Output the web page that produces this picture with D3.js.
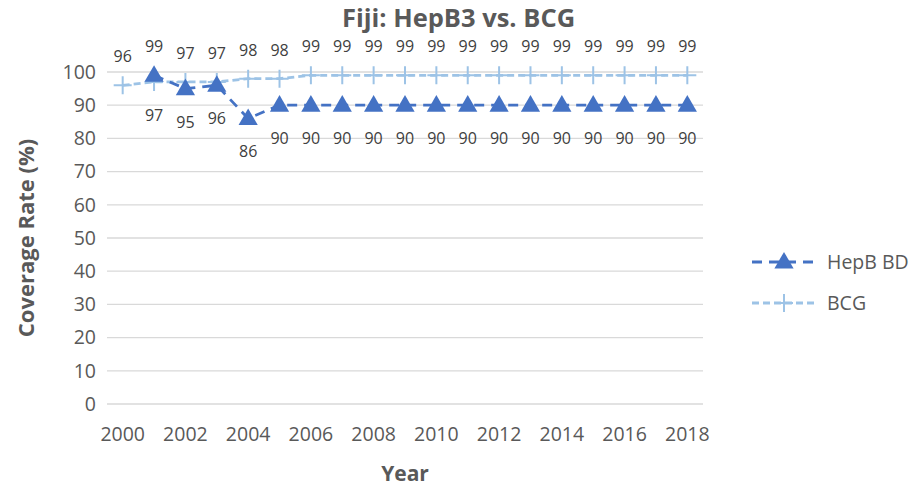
<!DOCTYPE html>
<html><head><meta charset="utf-8">
<script src="https://cdn.jsdelivr.net/npm/d3@7"></script>
<style>body{margin:0;background:#fff}svg{display:block}text{font-family:"Open Sans",sans-serif}</style>
</head><body><svg id="c" width="917" height="490"></svg>
<script>
const years = [2000,2001,2002,2003,2004,2005,2006,2007,2008,2009,2010,2011,2012,2013,2014,2015,2016,2017,2018];
const hepbYears = [2001,2002,2003,2004,2005,2006,2007,2008,2009,2010,2011,2012,2013,2014,2015,2016,2017,2018];
const hepbValues = [99,95,96,86,90,90,90,90,90,90,90,90,90,90,90,90,90,90];
const hepbLabelPos = ["above","below","below","below","below","below","below","below","below","below","below","below","below","below","below","below","below","below"];
const bcgValues = [96,97,97,97,98,98,99,99,99,99,99,99,99,99,99,99,99,99,99];
const bcgLabelPos = ["above","below","above","above","above","above","above","above","above","above","above","above","above","above","above","above","above","above","above"];
const yTicks = [0,10,20,30,40,50,60,70,80,90,100];
const xTickYears = [2000,2002,2004,2006,2008,2010,2012,2014,2016,2018];
const seriesNames = ["HepB BD","BCG"];

const svg = d3.select("#c");
const m = {l:107, r:214, t:72, b:86};
const W = 917, H = 490;
const x = d3.scaleBand().domain(years).range([m.l, W - m.r]);
const cx = d => x(d) + x.bandwidth()/2;
const y = d3.scaleLinear().domain([0,100]).range([H - m.b, m.t]);

const cHep = "#4472C4", cBcg = "#9DC3E6", txt = "#595959";

// grid
svg.append("g").selectAll("line").data(yTicks).join("line")
  .attr("x1", m.l).attr("x2", W - m.r).attr("y1", d => y(d)).attr("y2", d => y(d))
  .attr("stroke", "#D9D9D9").attr("stroke-width", 1.3);

// y axis
const ya = svg.append("g").attr("transform", `translate(${m.l},0)`)
  .call(d3.axisLeft(y).tickValues(yTicks).tickSize(0).tickPadding(11));
ya.select(".domain").remove();
ya.selectAll("text").attr("font-size", 19.5).attr("fill", txt).attr("font-family", '"Open Sans",sans-serif');

// x axis
const xa = svg.append("g").attr("transform", `translate(0,${y(0)})`)
  .call(d3.axisBottom(x).tickValues(xTickYears).tickSize(0).tickPadding(23));
xa.select(".domain").remove();
xa.selectAll("text").attr("font-size", 19.5).attr("fill", txt).attr("font-family", '"Open Sans",sans-serif');

// titles
svg.append("text").attr("x", W/2).attr("y", 27).attr("text-anchor", "middle")
  .attr("font-size", 25.5).attr("font-weight", "bold").attr("fill", txt).text("Fiji: HepB3 vs. BCG");
svg.append("text").attr("x", (m.l + W - m.r)/2).attr("y", 481).attr("text-anchor", "middle")
  .attr("font-size", 21).attr("font-weight", "bold").attr("fill", txt).text("Year");
svg.append("text").attr("transform", `translate(34,${(y(0)+y(100))/2}) rotate(-90)`).attr("text-anchor", "middle")
  .attr("font-size", 22).attr("font-weight", "bold").attr("fill", txt).text("Coverage Rate (%)");

const bcgData = years.map((yr,i) => ({yr, v: bcgValues[i], pos: bcgLabelPos[i]}));
const hepData = hepbYears.map((yr,i) => ({yr, v: hepbValues[i], pos: hepbLabelPos[i]}));
const line = d3.line().x(d => cx(d.yr)).y(d => y(d.v));

// BCG line
svg.append("path").datum(bcgData).attr("d", line).attr("fill", "none")
  .attr("stroke", cBcg).attr("stroke-width", 2.8).attr("stroke-dasharray", "7,4");
// HepB line
svg.append("path").datum(hepData).attr("d", line).attr("fill", "none")
  .attr("stroke", cHep).attr("stroke-width", 2.8).attr("stroke-dasharray", "10,7");

const tri = d3.symbol().type(d3.symbolTriangle).size(160);
const plus = (s) => `M${-s},0H${s}M0,${-s}V${s}`;

// BCG markers
svg.append("g").selectAll("path").data(bcgData).join("path")
  .attr("transform", d => `translate(${cx(d.yr)},${y(d.v)})`)
  .attr("d", plus(9)).attr("stroke", cBcg).attr("stroke-width", 2).attr("fill", "none");
// HepB markers
svg.append("g").selectAll("path").data(hepData).join("path")
  .attr("transform", d => `translate(${cx(d.yr)},${y(d.v)+1})`)
  .attr("d", tri).attr("fill", cHep);

// labels
const lab = (data) => svg.append("g").selectAll("text").data(data).join("text")
  .attr("x", d => cx(d.yr))
  .attr("y", d => y(d.v) + (d.pos === "above" ? -23 : 39))
  .attr("text-anchor", "middle").attr("font-size", 16).attr("fill", "#404040")
  .text(d => d.v);
lab(bcgData); lab(hepData);

// legend
const lg = svg.append("g");
const ly = [262, 303];
lg.append("line").attr("x1", 752).attr("x2", 815).attr("y1", ly[0]).attr("y2", ly[0])
  .attr("stroke", cHep).attr("stroke-width", 2.8).attr("stroke-dasharray", "10,7");
lg.append("path").attr("transform", `translate(784,${ly[0]+1})`).attr("d", tri).attr("fill", cHep);
lg.append("line").attr("x1", 752).attr("x2", 815).attr("y1", ly[1]).attr("y2", ly[1])
  .attr("stroke", cBcg).attr("stroke-width", 2.8).attr("stroke-dasharray", "7,4");
lg.append("path").attr("transform", `translate(784,${ly[1]})`).attr("d", plus(9)).attr("stroke", cBcg).attr("stroke-width", 2);
lg.selectAll("text.l").data(seriesNames).join("text").attr("class","l")
  .attr("x", 827).attr("y", (d,i) => ly[i] + 7).attr("font-size", 19.5).attr("fill", txt).text(d => d);
</script></body></html>
